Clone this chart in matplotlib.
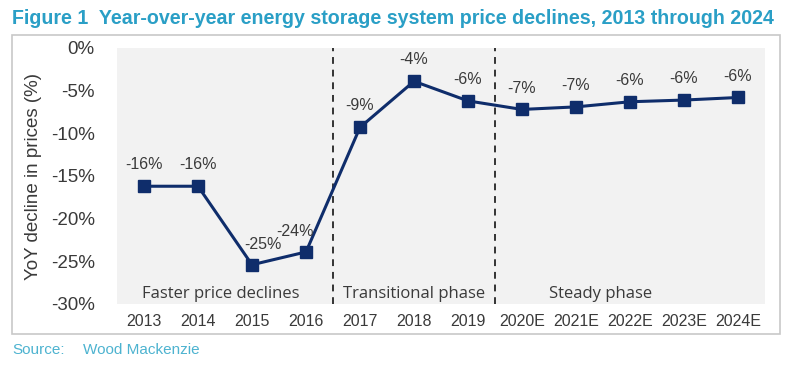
import matplotlib.pyplot as plt
from matplotlib.patches import Rectangle
import numpy as np

years = ['2013', '2014', '2015', '2016', '2017', '2018', '2019',
         '2020E', '2021E', '2022E', '2023E', '2024E']
yoy_decline = [-16.2, -16.2, -25.4, -23.9, -9.3, -3.9, -6.2,
               -7.2, -6.9, -6.3, -6.1, -5.8]
value_labels = ['-16%', '-16%', '-25%', '-24%', '-9%', '-4%', '-6%',
                '-7%', '-7%', '-6%', '-6%', '-6%']
phase_names = ['Faster price declines', 'Transitional phase', 'Steady phase']
phase_centers = [1.42, 5.0, 8.45]
phase_breaks = [3.5, 6.5]

teal = '#2a9fc6'
navy = '#0f2d6b'
text_grey = '#3a3a3a'

fig = plt.figure(figsize=(8, 3.78), dpi=100)
fig.patch.set_facecolor('white')

# outer frame
fig.patches.append(Rectangle((12/800, 1 - 334/378), 768/800, 299/378,
                             transform=fig.transFigure, fill=False,
                             edgecolor='#c8c8c8', linewidth=1.2))

ax = fig.add_axes([117/800, 1 - 304/378, 648/800, 256/378])
ax.set_facecolor('#f2f2f2')
for s in ax.spines.values():
    s.set_visible(False)

x = np.arange(len(years))
ax.plot(x, yoy_decline, color=navy, linewidth=2.2, marker='s',
        markersize=9, markerfacecolor=navy, markeredgecolor=navy, zorder=3)

offsets = {2: (8, 9), 3: (-8, 9)}
for i, (v, lab) in enumerate(zip(yoy_decline, value_labels)):
    dx, dy = offsets.get(i, (0, 10))
    ax.annotate(lab, (i, v), xytext=(dx, dy), textcoords='offset points',
                ha='center', va='bottom', fontsize=11.5, color=text_grey,
                family='Liberation Sans')

for b in phase_breaks:
    ax.axvline(b, color='#333333', linestyle=(0, (3.5, 3)), linewidth=1.4)

for c, name in zip(phase_centers, phase_names):
    ax.text(c, -28.8, name, ha='center', va='center', fontsize=12,
            color=text_grey, family='Open Sans')

ax.set_xlim(-0.5, len(years) - 0.5)
ax.set_ylim(-30, 0)
ax.set_xticks(x)
ax.set_xticklabels(years)
ax.set_yticks(np.arange(-30, 1, 5))
ax.set_yticklabels([f'{t}%' for t in range(-30, 1, 5)])
ax.tick_params(axis='x', length=0, pad=7, labelsize=11.5, labelcolor=text_grey)
ax.tick_params(axis='y', length=0, pad=16, labelsize=13.5, labelcolor=text_grey)
for t in ax.get_xticklabels() + ax.get_yticklabels():
    t.set_family('Liberation Sans')
ax.set_ylabel('YoY decline in prices (%)', fontsize=13.5, color=text_grey,
              family='Liberation Sans', labelpad=6)

fig.text(12/800, 1 - 18/378, 'Figure 1  Year-over-year energy storage system price declines, 2013 through 2024',
         fontsize=14.1, fontweight='bold', color=teal, va='center', ha='left',
         family=['Liberation Sans Narrow', 'Liberation Sans'])
fig.text(12/800, 1 - 350/378, 'Source:', fontsize=11, color='#4db3d0',
         va='center', ha='left', family='Liberation Sans')
fig.text(83/800, 1 - 350/378, 'Wood Mackenzie', fontsize=11, color='#4db3d0',
         va='center', ha='left', family='Liberation Sans')

fig.savefig('out.png', dpi=100)
